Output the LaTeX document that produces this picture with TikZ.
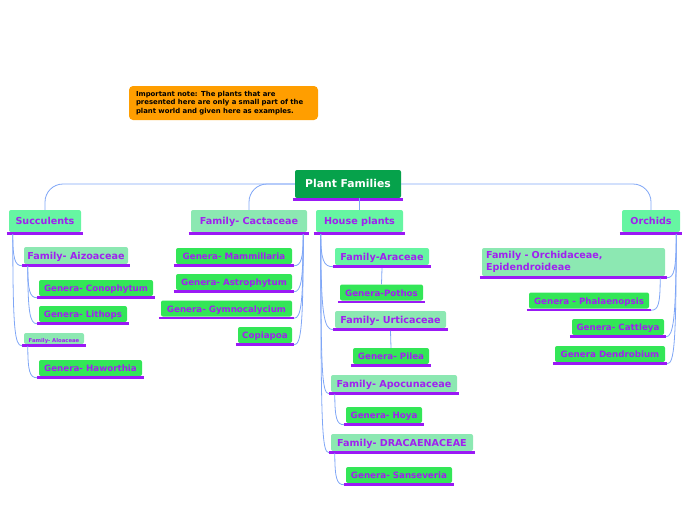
\documentclass[tikz,border=0pt]{standalone}
\usepackage{fontspec}
\setmainfont{DejaVu Sans}
\definecolor{purp}{HTML}{A020F0}
\definecolor{uline}{HTML}{9B19F5}
\definecolor{mint}{HTML}{66F5A2}
\definecolor{famg}{HTML}{8CE8B2}
\definecolor{geng}{HTML}{33E657}
\definecolor{rootg}{HTML}{06A24B}
\definecolor{notebg}{HTML}{FF9E00}
\definecolor{linkb}{HTML}{7FA6F6}
\tikzset{
  box/.style={rectangle, rounded corners=2pt, inner sep=0pt, text=purp, text height=0.74em, text depth=0.04em},
  lvone/.style={box, fill=mint, font=\fontsize{9.6}{11}\selectfont\bfseries},
  fam/.style={box, fill=famg, font=\fontsize{9.6}{11}\selectfont\bfseries},
  gen/.style={box, fill=geng, font=\fontsize{8.7}{10}\selectfont\bfseries},
  rootbox/.style={box, fill=rootg, text=white, font=\fontsize{10.8}{12}\selectfont\bfseries},
  notebox/.style={rectangle, rounded corners=4pt, fill=notebg, text=black, align=left,
    inner xsep=7pt, inner ysep=0pt, text width=175pt, font=\fontsize{6.9}{8.5}\selectfont\bfseries},
  conn/.style={draw=linkb, line width=0.8pt},
  ulinestyle/.style={draw=uline, line width=2.5pt},
}
\begin{document}
\begin{tikzpicture}[x=1pt, y=-1pt]
\useasboundingbox (0,0) rectangle (696,520);

% note
\node[notebox, minimum width=189pt, minimum height=34pt] (note) at (223.5,103)
  {Important note: The plants that are\\presented here are only a small part of the\\plant world and given here as examples.};

% root and level one
\node[rootbox, minimum width=106pt, minimum height=28pt] (root) at (348,184) {Plant Families};
\node[lvone, minimum width=72pt, minimum height=22pt] (succ) at (45,221) {Succulents};
\node[fam, minimum width=116pt, minimum height=22pt] (cact) at (249,221) {Family- Cactaceae};
\node[lvone, minimum width=87pt, minimum height=22pt] (house) at (359.5,221) {House plants};
\node[lvone, minimum width=58pt, minimum height=22pt] (orch) at (651,221) {Orchids};

% succulents
\node[fam, minimum width=104pt, minimum height=17pt] (aiz) at (76,255.5) {Family- Aizoaceae};
\node[gen, minimum width=114pt, minimum height=16pt] (cono) at (96,288) {Genera- Conophytum};
\node[gen, minimum width=88pt, minimum height=16pt] (lith) at (83,314) {Genera- Lithops};
\node[fam, minimum width=60pt, minimum height=11pt, font=\fontsize{5.3}{6}\selectfont\bfseries] (aloa) at (54,338.5) {Family- Aloaceae};
\node[gen, minimum width=103pt, minimum height=16pt] (haw) at (90.5,368) {Genera- Haworthia};

% cactaceae
\node[gen, minimum width=116pt, minimum height=16pt] (mam) at (234,256) {Genera- Mammillaria};
\node[gen, minimum width=116pt, minimum height=16pt] (astro) at (234,282) {Genera- Astrophytum};
\node[gen, minimum width=131pt, minimum height=16pt] (gymno) at (226.5,308.5) {Genera- Gymnocalycium};
\node[gen, minimum width=54pt, minimum height=16pt] (copi) at (265,335) {Copiapoa};

% house plants
\node[lvone, minimum width=94pt, minimum height=17pt] (arac) at (382,256.5) {Family-Araceae};
\node[gen, minimum width=83pt, minimum height=16pt] (poth) at (381.5,292.5) {Genera-Pothos};
\node[fam, minimum width=111pt, minimum height=17pt] (urti) at (390.5,319.5) {Family- Urticaceae};
\node[gen, minimum width=76pt, minimum height=16pt] (pilea) at (391,356) {Genera- Pilea};
\node[fam, minimum width=126pt, minimum height=17pt] (apoc) at (394,383.5) {Family- Apocunaceae};
\node[gen, minimum width=76pt, minimum height=16pt] (hoya) at (384,415) {Genera- Hoya};
\node[fam, minimum width=142pt, minimum height=17pt] (drac) at (402,442.5) {Family- DRACAENACEAE};
\node[gen, minimum width=106pt, minimum height=16pt] (sans) at (399,475) {Genera- Sanseveria};

% orchids
\node[fam, text height=, text depth=, minimum height=28pt, text width=175pt, inner xsep=4pt, align=left,
  font=\fontsize{9.6}{12.5}\selectfont\bfseries] (orfam) at (573.5,262) {Family - Orchidaceae,\\Epidendroideae};
\node[gen, minimum width=120pt, minimum height=16pt] (phal) at (589,300.5) {Genera - Phalaenopsis};
\node[gen, minimum width=92pt, minimum height=16pt] (catt) at (618,327) {Genera- Cattleya};
\node[gen, minimum width=110pt, minimum height=16pt] (dend) at (610,354) {Genera Dendrobium};

% underlines
\foreach \n in {root,succ,cact,house,orch,aiz,cono,lith,aloa,haw,mam,astro,gymno,copi,
  arac,poth,urti,pilea,apoc,hoya,drac,sans,orfam,phal,catt,dend}
  \draw[ulinestyle] ([xshift=-2pt,yshift=-1.5pt]\n.south west) -- ([xshift=2pt,yshift=-1.5pt]\n.south east);

% root connectors
\draw[conn, rounded corners=18pt] (root.west) -| (succ.north);
\draw[conn, rounded corners=18pt] (root.west) -| (cact.north);
\draw[conn, rounded corners=18pt] (root.east) -| (orch.north);
\draw[conn] (house.north) -- (house.north |- root.south);

% succulents connectors
\draw[conn] ([xshift=4pt,yshift=-2pt]succ.south west) .. controls +(0,24) and +(-7,0) .. ([xshift=-2pt,yshift=-1.5pt]aiz.south west);
\draw[conn] ([xshift=4pt,yshift=-2pt]succ.south west) .. controls +(0,95) and +(-7,0) .. ([xshift=-2pt,yshift=-1.5pt]aloa.south west);
\draw[conn] ([xshift=4pt,yshift=-2pt]aiz.south west) .. controls +(0,24) and +(-7,0) .. ([xshift=-2pt,yshift=-1.5pt]cono.south west);
\draw[conn] ([xshift=4pt,yshift=-2pt]aiz.south west) .. controls +(0,45) and +(-7,0) .. ([xshift=-2pt,yshift=-1.5pt]lith.south west);
\draw[conn] ([xshift=4pt,yshift=-2pt]aloa.south west) .. controls +(0,25) and +(-7,0) .. ([xshift=-2pt,yshift=-1.5pt]haw.south west);

% cactaceae connectors
\draw[conn] ([xshift=-4pt,yshift=-2pt]cact.south east) .. controls +(0,24) and +(7,0) .. ([xshift=2pt,yshift=-1.5pt]mam.south east);
\draw[conn] ([xshift=-4pt,yshift=-2pt]cact.south east) .. controls +(0,45) and +(7,0) .. ([xshift=2pt,yshift=-1.5pt]astro.south east);
\draw[conn] ([xshift=-4pt,yshift=-2pt]cact.south east) .. controls +(0,68) and +(7,0) .. ([xshift=2pt,yshift=-1.5pt]gymno.south east);
\draw[conn] ([xshift=-4pt,yshift=-2pt]cact.south east) .. controls +(0,92) and +(7,0) .. ([xshift=2pt,yshift=-1.5pt]copi.south east);

% house plants connectors
\draw[conn] ([xshift=5pt,yshift=-2pt]house.south west) .. controls +(0,26) and +(-9,0) .. ([xshift=-2pt,yshift=-1.5pt]arac.south west);
\draw[conn] ([xshift=5pt,yshift=-2pt]house.south west) .. controls +(0,78) and +(-9,0) .. ([xshift=-2pt,yshift=-1.5pt]urti.south west);
\draw[conn] ([xshift=5pt,yshift=-2pt]house.south west) .. controls +(0,135) and +(-7,0) .. ([xshift=-2pt,yshift=-1.5pt]apoc.south west);
\draw[conn] ([xshift=5pt,yshift=-2pt]house.south west) .. controls +(0,190) and +(-7,0) .. ([xshift=-2pt,yshift=-1.5pt]drac.south west);
\draw[conn] ([yshift=-2.75pt]arac.south) -- (poth.north);
\draw[conn] ([yshift=-2.75pt]urti.south) -- (pilea.north);
\draw[conn] ([xshift=4pt,yshift=-2pt]apoc.south west) .. controls +(0,24) and +(-7,0) .. ([xshift=-2pt,yshift=-1.5pt]hoya.south west);
\draw[conn] ([xshift=4pt,yshift=-2pt]drac.south west) .. controls +(0,25) and +(-7,0) .. ([xshift=-2pt,yshift=-1.5pt]sans.south west);

% orchids connectors
\draw[conn] ([xshift=-4pt,yshift=-2pt]orch.south east) .. controls +(0,35) and +(7,0) .. ([xshift=2pt,yshift=-1.5pt]orfam.south east);
\draw[conn] ([xshift=-4pt,yshift=-2pt]orch.south east) .. controls +(0,85) and +(7,0) .. ([xshift=2pt,yshift=-1.5pt]catt.south east);
\draw[conn] ([xshift=-4pt,yshift=-2pt]orch.south east) .. controls +(0,110) and +(7,0) .. ([xshift=2pt,yshift=-1.5pt]dend.south east);
\draw[conn] ([xshift=-5pt,yshift=-2pt]orfam.south east) .. controls +(0,26) and +(7,0) .. ([xshift=2pt,yshift=-1.5pt]phal.south east);
\end{tikzpicture}
\end{document}
